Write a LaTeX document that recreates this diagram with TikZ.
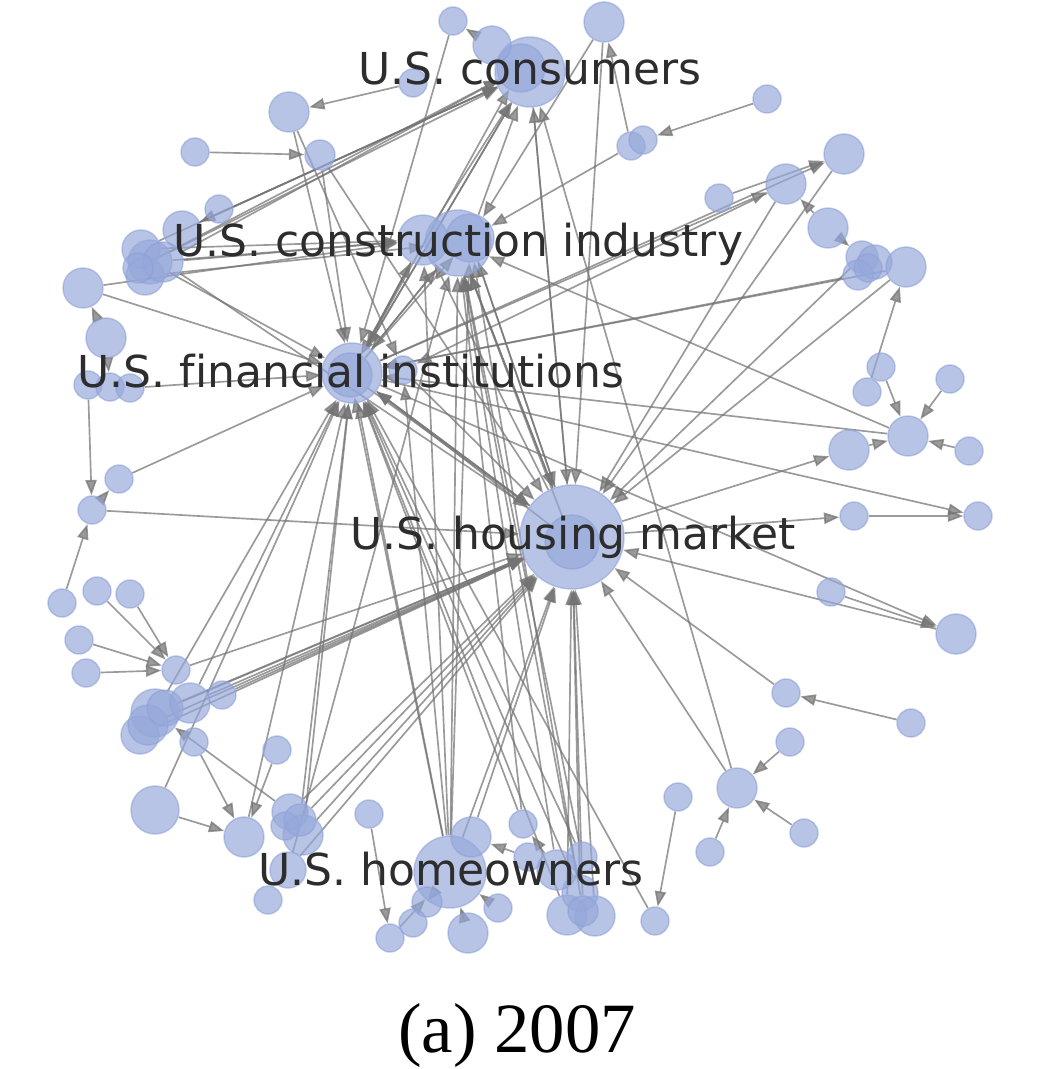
\documentclass[tikz,border=0pt]{standalone}
\usepackage{fontspec}
\setmainfont{DejaVu Sans}[Ligatures=NoCommon]
\newfontfamily\capfont{Liberation Serif}
\usetikzlibrary{arrows.meta}
\pgfdeclarelayer{bg}\pgfdeclarelayer{fg}
\pgfsetlayers{bg,main,fg}
\definecolor{nodefill}{RGB}{150,168,218}
\definecolor{nodeline}{RGB}{140,160,216}
\definecolor{edgec}{RGB}{115,115,115}
\definecolor{labc}{RGB}{45,45,45}
\tikzset{
  nd/.style={circle,inner sep=0pt,fill=nodefill,fill opacity=0.68,draw=nodeline,draw opacity=0.55,line width=1.1pt},
  edge/.style={draw=edgec,line width=1.25pt,opacity=0.72,-{Triangle[length=11.5pt,width=8.5pt]}},
  lab/.style={anchor=base,text=labc,font=\fontsize{33}{40}\selectfont,inner sep=0pt},
}
\newcommand\nd[4]{\node[nd,minimum size={1.5*#4 pt}] (#1) at (#2,#3) {};}
\begin{document}
\begin{tikzpicture}[x=0.75pt,y=-0.75pt]
\useasboundingbox (0,0) rectangle (1038,1069);
% hubs
\nd{C}{530}{72}{35}\nd{C2}{521}{68}{24}\nd{Cn}{492}{45}{19}
\nd{I}{458}{243}{33}\nd{I2}{423}{240}{25}\nd{I3}{470}{238}{24}
\nd{F}{352}{373}{30}\nd{F2}{350}{375}{22}
\nd{H}{572}{537}{52}\nd{H2}{572}{542}{27}
\nd{O}{450}{872}{36}
% top-left
\nd{a1}{453}{21}{14}\nd{a2}{413}{83}{14}\nd{a3}{289}{112}{20}\nd{a4}{195}{152}{14}
\nd{a5}{320}{155}{15}\nd{a6}{219}{209}{14}\nd{a7}{182}{230}{19}
\nd{L}{150}{262}{22}\nd{L2}{141}{249}{19}\nd{L3}{145}{276}{19}\nd{L4}{163}{262}{20}\nd{L5}{138}{268}{15}
\nd{a8}{83}{288}{20}\nd{a9}{106}{338}{20}
\nd{a10}{88}{385}{14}\nd{a11}{110}{387}{14}\nd{a12}{130}{388}{14}
\nd{a13}{403}{370}{14}\nd{a14}{119}{479}{14}\nd{a15}{92}{510}{14}
% right
\nd{b1}{604}{22}{20}\nd{b2}{767}{99}{14}\nd{b3}{631}{146}{14}\nd{b4}{643}{140}{14}
\nd{b5}{844}{154}{20}\nd{b6}{719}{198}{14}\nd{b7}{786}{184}{20}\nd{b8}{828}{228}{20}
\nd{b9}{862}{257}{16}\nd{b10}{875}{262}{17}\nd{b11}{858}{275}{15}\nd{b12}{868}{268}{14}
\nd{b13}{906}{267}{20}\nd{b14}{881}{367}{14}\nd{b15}{867}{392}{14}\nd{b16}{950}{379}{14}
\nd{b17}{908}{436}{20}\nd{b18}{849}{450}{20}\nd{b19}{969}{451}{14}
\nd{b20}{854}{516}{14}\nd{b21}{978}{516}{14}\nd{b22}{831}{592}{14}\nd{b23}{956}{634}{20}
\nd{b24}{786}{693}{14}\nd{b25}{911}{723}{14}\nd{b26}{790}{742}{14}\nd{b27}{737}{788}{20}
\nd{b28}{804}{833}{14}\nd{b29}{710}{852}{14}\nd{b30}{678}{797}{14}\nd{b31}{655}{921}{14}
% bottom
\nd{c1}{567}{915}{20}\nd{c2}{595}{916}{20}\nd{c3}{580}{893}{18}\nd{c4}{557}{870}{20}
\nd{c5}{582}{857}{15}\nd{c6}{583}{911}{15}\nd{c7}{528}{857}{14}\nd{c8}{523}{824}{14}
\nd{c9}{498}{908}{14}\nd{c10}{468}{933}{20}\nd{c11}{471}{837}{20}\nd{c12}{427}{902}{15}
\nd{c13}{413}{923}{14}\nd{c14}{390}{938}{14}\nd{c15}{369}{814}{14}
% bottom-left
\nd{d1}{62}{603}{14}\nd{d2}{97}{591}{14}\nd{d3}{130}{594}{14}\nd{d4}{79}{640}{14}
\nd{d5}{86}{673}{14}\nd{d6}{176}{670}{14}
\nd{M}{155}{713}{24}\nd{M2}{140}{735}{19}\nd{M3}{148}{725}{20}\nd{M4}{165}{708}{18}
\nd{d7}{190}{703}{20}\nd{d8}{222}{695}{14}\nd{d9}{194}{742}{14}\nd{d10}{155}{810}{24}
\nd{d11}{244}{837}{20}\nd{d12}{277}{750}{14}
\nd{P}{290}{812}{18}\nd{P2}{303}{835}{20}\nd{P3}{285}{826}{14}\nd{P4}{300}{820}{16}
\nd{d13}{288}{870}{18}\nd{d14}{268}{900}{14}
\begin{pgfonlayer}{bg}
\foreach \a/\b in {
 a2/a3, Cn/a1, a1/F, b1/I3, b3/b1, b2/b4, b3/I3, b1/H, C/H, b27/C, a4/a5, C/a7,
 L/C, L4/C2, L2/C, L5/C2, a7/C, L/I2, L4/I2, L3/I, L2/I2, L/F, L4/H, a8/I2, a8/F, a9/a8, a9/a11,
 a10/a15, a12/F, a14/F, a15/a14, d1/a15, a15/H, a3/F, a5/F, a5/H, a3/a13,
 F/C, F/C2, I2/C, I3/C, b6/b5, F/b5, F/b7, b8/b7, b8/b9, b7/H, b5/H, b9/H, b13/H,
 b11/F, b15/b13, b14/b17, b16/b17, b19/b17, b18/b17, b17/I, b17/F, H/b18, b20/b21,
 F/b21, F/b23, b22/b23, b23/H, b24/H, b25/b24, b26/b27, b28/b27, b29/b27, b27/H,
 b30/b31, b31/F, c1/H, c2/H, c3/H, c6/H, c5/F, c3/I, c5/I, c4/c8, c7/c11, c11/H,
 c8/F, O/I, O/I2, O/I3, O/F, O/H, c12/O, c14/O, c15/c14, c10/O, c9/O,
 d2/d6, d3/d6, d4/d6, d5/d6, d6/H, M/H, M3/H, M4/H, M2/H, d7/H, d8/H, M/F, d7/F,
 d10/d11, d10/F, d9/d11, d12/d11, P/M, P/H, P4/H, P2/H, P4/F, P2/F, d11/F, d13/I,
 H/I, H/I2, H/I3, H2/I, I/H, I3/H, H/F, H2/F, F/H, F2/H, F/I, F/I2, I2/F, I/F, a13/H,
 H/C, C/F, c4/I, c1/F, c6/I3, O/a13, d13/H, c8/I, b13/F, b7/a13, H/b20, I2/F2, F2/I3,
 O/F2, c3/F}
 \draw[edge] (\a) -- (\b);
\end{pgfonlayer}
\begin{pgfonlayer}{fg}
\node[lab] (t1) at (530,85) {U.S. consumers};
\node[lab] (t2) at (458,257) {U.S. construction industry};
\node[lab] (t3) at (351,387) {U.S. financial institutions};
\node[lab] (t4) at (573,549) {U.S. housing market};
\node[lab] (t5) at (451,885) {U.S. homeowners};
\node[anchor=base,inner sep=0pt,font=\capfont\fontsize{53}{60}\selectfont] (cap) at (517,1052) {(a) 2007};
\end{pgfonlayer}
\end{tikzpicture}
\end{document}
